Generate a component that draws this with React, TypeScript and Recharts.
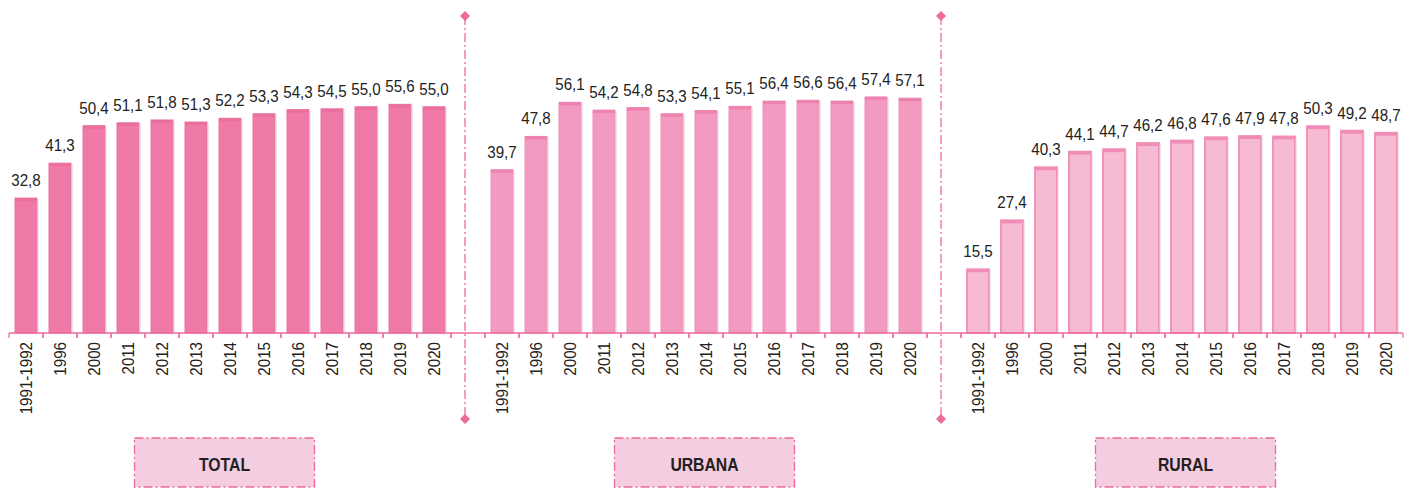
import React from "react";
import { BarChart, Bar, XAxis, YAxis, LabelList, ReferenceDot } from "recharts";

const years = [
  "1991-1992", "1996", "2000", "2011", "2012", "2013", "2014",
  "2015", "2016", "2017", "2018", "2019", "2020",
];
const totalValues = [32.8, 41.3, 50.4, 51.1, 51.8, 51.3, 52.2, 53.3, 54.3, 54.5, 55.0, 55.6, 55.0];
const urbanaValues = [39.7, 47.8, 56.1, 54.2, 54.8, 53.3, 54.1, 55.1, 56.4, 56.6, 56.4, 57.4, 57.1];
const ruralValues = [15.5, 27.4, 40.3, 44.1, 44.7, 46.2, 46.8, 47.6, 47.9, 47.8, 50.3, 49.2, 48.7];
const groupNames = ["TOTAL", "URBANA", "RURAL"];

// look of each group
const fills = ["#f07aa7", "#f39ac1", "#f7bad3"];
const strokes = ["#e9729f", "#ee8db6", "#f08cb5"];
const caps = ["#ea6e9e", "#ee82ae", "#f08cb5"];
const boxNudge = [-5.5, -1.5, 3.5];
const pink = "#ec6a9c";
const FONT = "'Liberation Sans', Arial, sans-serif";
const SQUEEZE = 0.89;

interface Row {
  key: string;
  label: string;
  value: number | null;
  group: number;
}

const rows: Row[] = [];
[totalValues, urbanaValues, ruralValues].forEach((vals, g) => {
  years.forEach((yr, i) => rows.push({ key: `${g}|${yr}`, label: yr, value: vals[i], group: g }));
  if (g < 2) rows.push({ key: `gap${g}`, label: "", value: null, group: -1 });
});

const fmt = (v: number) => v.toFixed(1).replace(".", ",");

const AxisTick = (props: any) => {
  const { x, y, payload } = props;
  const half = payload && payload.offset ? payload.offset : 17;
  const row = rows.find((r) => r.key === payload.value);
  return (
    <g>
      <line x1={x - half} x2={x - half} y1={y} y2={y + 5} stroke={pink} strokeWidth={1.2} />
      <line x1={x + half} x2={x + half} y1={y} y2={y + 5} stroke={pink} strokeWidth={1.2} />
      {row && row.label && (
        <text
          transform={`translate(${x},${y + 9}) rotate(-90) scale(${SQUEEZE},1)`}
          textAnchor="end"
          dy="0.36em"
          fontSize={17}
          fontFamily={FONT}
          fill="#222"
        >
          {row.label}
        </text>
      )}
    </g>
  );
};

const ValueLabel = (props: any) => {
  const { x, y, width, value } = props;
  if (value == null) return null;
  const cx = x + width / 2;
  return (
    <text
      transform={`translate(${cx},${y - 12}) scale(${SQUEEZE},1)`}
      textAnchor="middle"
      fontSize={17}
      fontFamily={FONT}
      fill="#222"
    >
      {fmt(Number(value))}
    </text>
  );
};

const BarShape = (props: any) => {
  const { x, y, width, height, payload } = props;
  const g = payload.group;
  if (g < 0 || !height) return null;
  const sw = g === 2 ? 1.8 : 1;
  return (
    <g>
      <rect x={x} y={y} width={width} height={height} fill={fills[g]} stroke={strokes[g]} strokeWidth={sw} />
      <rect x={x} y={y} width={width} height={3} fill={caps[g]} />
      <line x1={x + width + 1} x2={x + width + 1} y1={y + 1} y2={y + height} stroke="#d9d0d4" strokeWidth={1} />
    </g>
  );
};

const Divider = (props: any) => {
  const cx = props.cx - 3;
  const d = 5;
  return (
    <g>
      <line x1={cx} x2={cx} y1={16} y2={419} stroke={pink} strokeWidth={1.3} strokeDasharray="9 3 2 3" />
      <path d={`M${cx},${16 - d} L${cx + d},16 L${cx},${16 + d} L${cx - d},16 Z`} fill={pink} />
      <path d={`M${cx},${419 - d} L${cx + d},419 L${cx},${419 + d} L${cx - d},419 Z`} fill={pink} />
    </g>
  );
};

const GroupBox = (name: string, nudge: number) => (props: any) => {
  const cx = props.cx + nudge;
  return (
    <g>
      <rect
        x={cx - 90}
        y={438}
        width={180}
        height={49}
        fill="#f4cde1"
        stroke={pink}
        strokeWidth={1.3}
        strokeDasharray="9 3 2 3"
      />
      <text
        transform={`translate(${cx},464) scale(0.83,1)`}
        dy="0.35em"
        textAnchor="middle"
        fontSize={19}
        fontWeight="bold"
        fontFamily={FONT}
        fill="#222"
      >
        {name}
      </text>
    </g>
  );
};

export default function App() {
  return (
    <div style={{ position: "absolute", left: 0, top: 0, background: "#fff" }}>
      <BarChart
        width={1409}
        height={489}
        data={rows}
        margin={{ top: 4, right: 6, left: 9, bottom: 0 }}
        barCategoryGap={12}
      >
        <XAxis
          dataKey="key"
          interval={0}
          height={156}
          tickSize={0}
          tickMargin={0}
          tickLine={false}
          axisLine={{ stroke: pink, strokeWidth: 1.5 }}
          tick={<AxisTick />}
        />
        <YAxis hide domain={[0, 80]} />
        <Bar dataKey="value" barSize={22} shape={<BarShape />} isAnimationActive={false}>
          <LabelList dataKey="value" content={<ValueLabel />} />
        </Bar>
        <ReferenceDot x="gap0" y={0} ifOverflow="visible" shape={<Divider />} />
        <ReferenceDot x="gap1" y={0} ifOverflow="visible" shape={<Divider />} />
        {groupNames.map((n, g) => (
          <ReferenceDot key={n} x={`${g}|2014`} y={0} ifOverflow="visible" shape={GroupBox(n, boxNudge[g])} />
        ))}
      </BarChart>
    </div>
  );
}
